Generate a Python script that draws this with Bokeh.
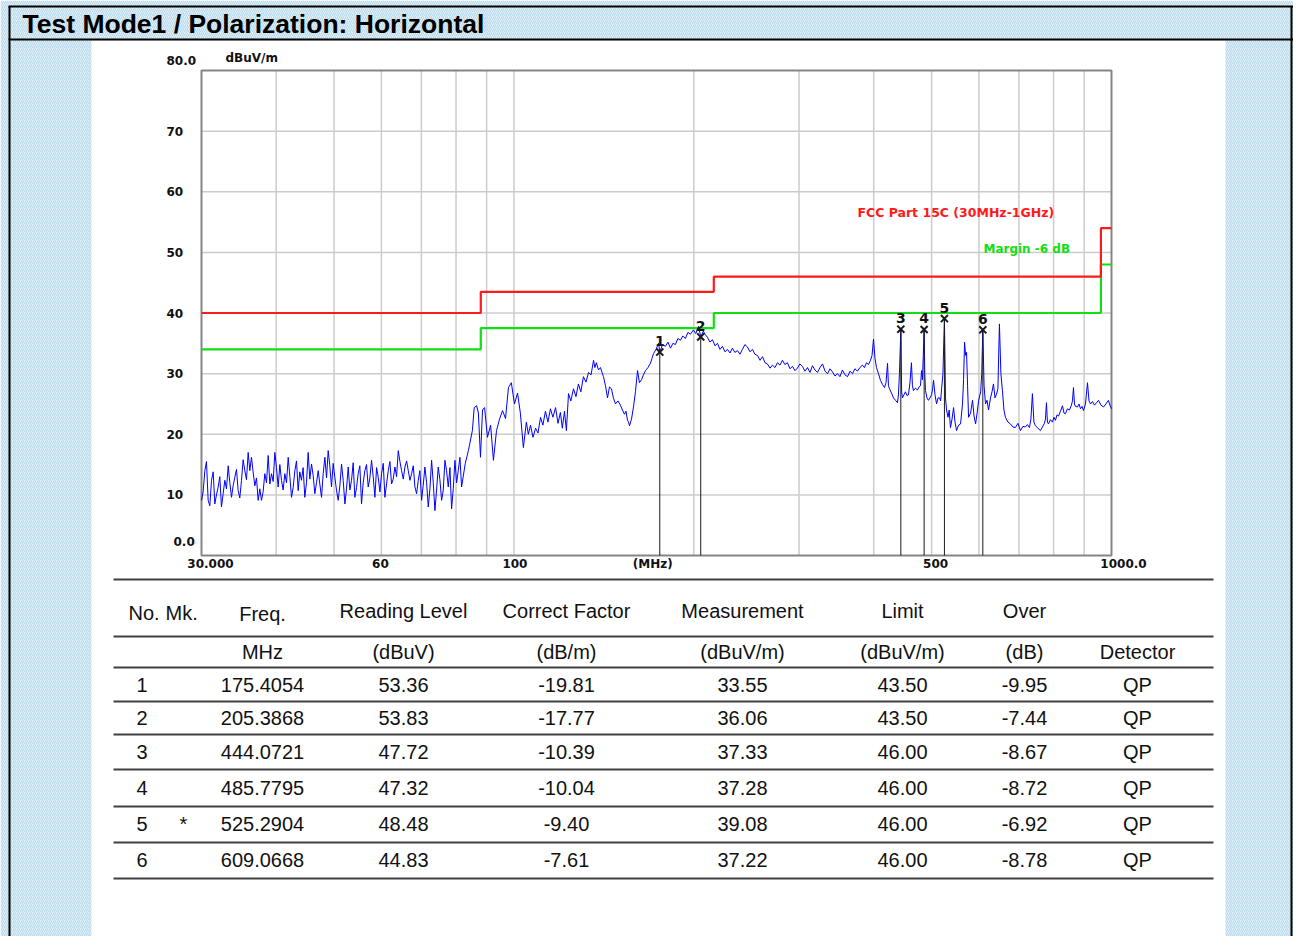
import math
from bokeh.plotting import figure
from bokeh.models import Range1d, ColumnDataSource, LogScale, LinearScale
from bokeh.core.properties import value
from bokeh.embed import file_html
from bokeh.resources import INLINE

# ---------------- data ----------------
page_title = "Test Mode1 / Polarization: Horizontal"
y_unit = "dBuV/m"
limit_name = "FCC Part 15C (30MHz-1GHz)"
margin_name = "Margin -6 dB"

limit_edges = [30, 88, 216, 960, 1000]
limit_levels = [40.0, 43.5, 46.0, 54.0, 54.0]
margin_levels = [34.0, 37.5, 40.0, 48.0, 48.0]

x_tick_values = [30, 60, 100, 170.7, 500, 1000]
x_tick_labels = ["30.000", "60", "100", "(MHz)", "500", "1000.0"]
x_grid_values = [40, 50, 60, 70, 80, 90, 100, 200, 300, 400, 500, 600, 700, 800, 900]
y_tick_values = [0, 10, 20, 30, 40, 50, 60, 70, 80]
y_tick_labels = ["0.0", "10", "20", "30", "40", "50", "60", "70", "80.0"]
y_grid_values = [10, 20, 30, 40, 50, 60, 70]

# low-band noise floor (30 - 82 MHz)
noise_freq = [30.0, 30.39, 30.78, 31.18, 31.58, 31.99, 32.40, 32.82, 33.25, 33.68,
              34.11, 34.55, 35.00, 35.45, 35.91, 36.37, 36.84, 37.32, 37.80, 38.29,
              38.79, 39.29, 39.80, 40.31, 40.83, 41.36, 41.90, 42.44, 42.99, 43.54,
              44.10, 44.67, 45.25, 45.84, 46.43, 47.03, 47.64, 48.26, 48.88, 49.51,
              50.15, 50.80, 51.46, 52.13, 52.80, 53.48, 54.17, 54.87, 55.58, 56.30,
              57.03, 57.77, 58.52, 59.28, 60.04, 60.82, 61.61, 62.40, 63.21, 64.03,
              64.86, 65.70, 66.55, 67.41, 68.28, 69.16, 70.05, 70.96, 71.88, 72.81,
              73.75, 74.70, 75.67, 76.65, 77.64, 78.64, 79.66, 80.69, 81.73]
noise_level = [9.1, 14.0, 9.1, 12.4, 8.5, 11.3, 8.0, 12.4, 14.8, 9.6,
               12.9, 10.7, 12.4, 14.0, 17.0, 16.2, 11.5, 9.1, 9.1, 13.5,
               16.5, 13.5, 17.0, 11.3, 12.4, 13.5, 16.2, 9.6, 14.0, 10.7,
               12.4, 9.6, 17.0, 15.1, 10.2, 14.0, 9.6, 16.2, 17.3, 11.3,
               12.9, 9.1, 15.1, 8.5, 14.6, 12.4, 9.6, 13.5, 8.5, 14.0,
               11.3, 15.7, 9.6, 12.9, 13.5, 9.6, 14.0, 11.8, 14.6, 17.3,
               14.0, 14.6, 14.0, 13.5, 11.3, 12.4, 9.1, 14.6, 8.0, 15.7,
               7.4, 14.6, 9.1, 15.7, 11.3, 7.7, 15.7, 14.0, 11.3]
noise_mid_freq = [30.19, 30.58, 30.98, 31.38, 31.78, 32.19, 32.61, 33.03, 33.46, 33.89,
                  34.33, 34.77, 35.22, 35.68, 36.14, 36.60, 37.08, 37.56, 38.04, 38.54,
                  39.04, 39.54, 40.05, 40.57, 41.09, 41.63, 42.17, 42.71, 43.26, 43.82,
                  44.38, 44.96, 45.54, 46.13, 46.73, 47.33, 47.95, 48.57, 49.19, 49.83,
                  50.47, 51.13, 51.79, 52.46, 53.14, 53.82, 54.52, 55.22, 55.94, 56.66,
                  57.40, 58.14, 58.90, 59.66, 60.43, 61.21, 62.00, 62.80, 63.62, 64.44,
                  65.28, 66.12, 66.98, 67.84, 68.72, 69.60, 70.50, 71.42, 72.34, 73.28,
                  74.22, 75.18, 76.16, 77.14, 78.14, 79.15, 80.17, 81.21]
noise_mid_level = [10.5, 15.5, 8.2, 13.8, 10.0, 13.0, 10.2, 11.0, 12.0, 11.5,
                   14.2, 9.5, 15.8, 12.5, 14.0, 13.8, 12.8, 11.0, 10.5, 12.0,
                   11.8, 12.2, 14.5, 15.0, 10.8, 12.0, 13.0, 11.2, 15.6, 13.8,
                   14.5, 12.0, 12.6, 13.2, 12.0, 11.8, 13.5, 12.8, 14.8, 15.2,
                   10.8, 11.5, 12.4, 11.0, 10.8, 15.3, 11.2, 14.8, 12.0, 15.0,
                   12.8, 13.0, 14.5, 10.5, 15.2, 11.8, 15.5, 12.6, 13.0, 15.5,
                   12.6, 15.6, 12.4, 14.8, 10.2, 14.0, 11.6, 12.0, 11.0, 12.0,
                   10.8, 12.5, 10.8, 14.0, 14.5, 11.0, 12.0, 16.2]

upper_points = [
    (82.9, 15.2), (83.9, 17.3), (85.2, 20.6), (85.8, 24.4), (86.6, 24.7), (87.2, 23.5),
    (87.9, 16.2), (88.6, 24.0), (89.3, 24.4), (90.3, 19.5), (91.4, 21.5), (92.4, 15.7),
    (93.5, 20.6), (94.6, 22.5), (95.7, 23.9), (96.8, 22.6), (97.9, 27.7), (99.0, 28.5),
    (100.2, 25.0), (101.4, 26.8), (102.5, 23.5), (103.7, 17.8), (104.9, 22.0), (105.7, 20.0),
    (106.6, 21.5), (107.6, 19.5), (108.7, 21.0), (109.7, 20.2), (110.8, 22.8), (111.8, 21.5),
    (112.9, 23.8), (114.0, 22.0), (115.1, 24.2), (116.2, 22.8), (117.4, 24.4), (118.5, 21.8),
    (119.6, 23.6), (120.5, 21.0), (121.5, 23.8), (122.4, 20.6), (123.4, 26.7), (124.5, 25.5),
    (125.8, 27.5), (127.0, 26.2), (128.2, 28.3), (129.4, 27.0), (130.7, 29.5), (132.0, 28.6),
    (133.3, 30.2), (134.6, 29.8), (135.9, 32.2), (136.6, 31.0), (137.4, 31.8), (138.5, 30.6),
    (139.6, 31.0), (140.4, 30.2), (141.2, 29.5), (142.3, 28.0), (143.4, 26.0), (144.5, 27.8),
    (145.6, 27.5), (146.7, 26.0), (147.9, 25.0), (149.3, 25.5), (150.7, 24.8), (151.9, 24.0),
    (153.1, 23.3), (154.0, 23.8), (154.9, 22.3), (155.5, 22.0), (156.1, 21.4), (157.3, 22.5),
    (158.5, 24.5), (159.7, 27.0), (161.0, 30.5), (162.2, 28.5), (163.5, 29.0), (164.7, 29.8),
    (166.0, 30.5), (167.6, 31.0), (169.2, 31.7), (170.2, 32.5), (171.2, 33.3), (172.9, 34.0),
    (174.6, 35.0), (175.4, 33.6), (177.3, 34.8), (179.3, 34.5), (181.0, 35.2), (182.8, 34.2),
    (184.5, 35.0), (186.3, 34.8), (188.1, 35.8), (189.9, 35.5), (191.7, 36.2), (193.6, 35.8),
    (195.5, 36.8), (197.4, 36.5), (199.7, 37.2), (201.5, 36.6), (203.6, 37.8), (205.4, 36.1),
    (207.5, 37.0), (209.1, 36.4), (210.8, 36.0), (212.8, 35.2), (214.9, 35.6), (217.0, 34.6),
    (219.1, 35.0), (221.2, 34.0), (223.3, 34.5), (225.5, 33.6), (227.7, 34.0), (229.9, 33.4),
    (232.1, 34.2), (234.3, 33.5), (236.6, 33.8), (238.9, 33.2), (241.2, 34.0), (243.5, 34.8),
    (245.9, 34.4), (248.3, 33.6), (250.7, 34.0), (253.1, 33.2), (255.6, 33.0), (258.1, 32.2),
    (260.6, 32.8), (263.1, 31.8), (265.6, 31.6), (268.2, 30.9), (270.8, 31.4), (273.4, 31.0),
    (276.1, 31.8), (278.7, 31.4), (281.4, 32.2), (284.1, 31.5), (286.9, 31.8), (289.7, 30.8),
    (292.5, 31.2), (295.3, 30.5), (298.1, 30.9), (301.0, 31.6), (303.9, 31.2), (306.9, 30.4),
    (309.9, 31.0), (312.9, 30.2), (315.9, 31.3), (319.0, 30.6), (322.1, 30.2), (325.2, 31.0),
    (328.4, 31.6), (331.6, 30.4), (334.8, 30.0), (338.0, 30.8), (341.2, 30.3), (344.6, 29.6),
    (347.9, 30.0), (351.2, 29.5), (354.6, 30.6), (358.1, 29.8), (361.6, 29.5), (365.1, 30.4),
    (368.6, 30.0), (372.1, 30.8), (375.7, 30.4), (379.3, 31.0), (383.0, 31.4), (386.0, 31.0),
    (389.0, 31.8), (392.0, 31.5), (395.1, 32.2), (397.4, 33.0), (399.7, 35.7), (402.0, 32.5),
    (404.3, 31.0), (407.4, 30.0), (410.6, 28.9), (413.8, 28.2), (417.0, 27.7), (419.4, 28.5),
    (421.9, 31.7), (423.4, 28.0), (425.1, 27.5), (428.4, 26.8), (431.7, 26.0), (435.0, 25.6),
    (438.3, 25.2), (440.0, 26.5), (441.7, 30.0), (444.07, 37.3), (445.5, 27.0), (446.8, 26.0),
    (449.4, 26.5), (452.0, 27.0), (454.6, 26.4), (457.3, 26.5), (460.0, 28.5), (462.6, 31.8),
    (464.4, 28.0), (466.2, 27.2), (469.8, 27.6), (473.5, 27.3), (476.3, 27.8), (479.0, 28.0),
    (481.0, 30.5), (482.7, 29.0), (484.2, 33.0), (485.78, 37.3), (487.0, 30.0), (488.3, 27.2),
    (491.1, 26.0), (494.0, 25.6), (496.9, 26.0), (499.8, 26.5), (501.9, 27.5), (503.7, 28.9),
    (506.6, 26.5), (509.6, 25.0), (512.5, 26.0), (515.6, 26.0), (517.6, 25.5), (519.6, 27.5),
    (522.3, 30.0), (525.29, 39.1), (527.5, 26.0), (529.6, 24.0), (532.7, 22.8), (535.0, 24.0),
    (537.7, 21.1), (540.9, 22.5), (544.1, 24.4), (547.2, 22.0), (550.4, 20.6), (554.6, 21.5),
    (559.0, 21.7), (563.2, 25.0), (565.5, 29.0), (567.7, 35.2), (570.0, 33.0), (572.1, 33.5),
    (574.3, 28.0), (576.5, 22.8), (581.0, 23.5), (585.4, 25.6), (588.8, 23.0), (592.3, 21.7),
    (595.8, 23.5), (599.3, 25.6), (604.0, 27.0), (606.5, 30.0), (609.07, 37.2), (612.0, 28.0),
    (615.4, 25.0), (619.0, 25.6), (622.6, 24.0), (627.4, 26.0), (631.0, 27.0), (634.6, 28.3),
    (638.3, 26.0), (642.0, 26.6), (645.5, 27.5), (649.3, 38.2), (653.0, 30.0), (656.9, 27.2),
    (660.7, 24.0), (664.5, 22.8), (670.9, 22.0), (677.4, 21.7), (684.0, 21.2), (690.6, 21.1),
    (697.3, 21.8), (704.1, 20.6), (710.9, 21.3), (717.7, 21.2), (723.3, 21.6), (728.9, 21.1),
    (733.0, 22.5), (737.3, 26.7), (741.6, 22.0), (745.9, 21.4), (753.1, 21.0), (760.4, 20.6),
    (766.3, 21.2), (772.3, 21.8), (775.3, 22.5), (778.3, 25.2), (781.3, 22.0), (784.3, 21.7),
    (790.4, 22.4), (796.5, 22.0), (801.1, 22.8), (805.8, 22.3), (810.6, 23.2), (815.4, 23.0),
    (821.5, 23.8), (827.8, 24.7), (832.6, 23.5), (837.4, 23.4), (843.9, 24.2), (850.4, 24.0),
    (857.0, 24.8), (860.3, 25.5), (863.7, 27.7), (867.0, 25.0), (870.3, 24.6), (877.1, 24.5),
    (882.2, 25.0), (887.4, 24.2), (892.5, 24.6), (897.7, 23.9), (904.6, 25.0), (911.6, 28.5),
    (917.0, 25.5), (922.3, 25.0), (929.4, 25.4), (936.6, 24.8), (943.8, 25.2), (951.1, 25.6),
    (960.3, 24.8), (969.6, 24.5), (978.9, 25.0), (988.3, 25.6), (994.0, 24.8), (1000.0, 24.2),
]

mk_no = [1, 2, 3, 4, 5, 6]
mk_flag = ["", "", "", "", "*", ""]
mk_freq = [175.4054, 205.3868, 444.0721, 485.7795, 525.2904, 609.0668]
mk_reading = [53.36, 53.83, 47.72, 47.32, 48.48, 44.83]
mk_factor = [-19.81, -17.77, -10.39, -10.04, -9.40, -7.61]
mk_meas = [33.55, 36.06, 37.33, 37.28, 39.08, 37.22]
mk_limit = [43.50, 43.50, 46.00, 46.00, 46.00, 46.00]
mk_over = [-9.95, -7.44, -8.67, -8.72, -6.92, -8.78]
mk_detector = ["QP", "QP", "QP", "QP", "QP", "QP"]

header1 = ["Freq.", "Reading Level", "Correct Factor", "Measurement", "Limit", "Over"]
header2 = ["MHz", "(dBuV)", "(dB/m)", "(dBuV/m)", "(dBuV/m)", "(dB)", "Detector"]

low_band = sorted(zip(noise_freq + noise_mid_freq, noise_level + noise_mid_level))
trace_freq = [p[0] for p in low_band] + [p[0] for p in upper_points]
trace_level = [p[1] for p in low_band] + [p[1] for p in upper_points]

# ---------------- layout / styles ----------------
W, H = 1293, 936
PX_L, PX_R, PY_T, PY_B = 201, 1111, 70, 555          # plot area on the page, pixels
F_L, F_R, DB_B, DB_T = 30.0, 1000.0, 0.0, 80.0        # axis extents
dec_per_px = (math.log10(F_R) - math.log10(F_L)) / (PX_R - PX_L)
f_lo = 10 ** (math.log10(F_L) - PX_L * dec_per_px)
f_hi = 10 ** (math.log10(F_R) + (W - PX_R) * dec_per_px)
db_per_px = (DB_T - DB_B) / (PY_B - PY_T)
db_lo = DB_B - (H - PY_B) * db_per_px
db_hi = DB_T + PY_T * db_per_px

BG = "#dfeff7"
HATCH = "#b3d6e9"
RED = "#ff1a1a"
GREEN = "#10e010"
TICK_FONT = value("DejaVu Sans")
TABLE_FONT = value("Liberation Sans")

page = figure(width=W, height=H, x_range=Range1d(0, W), y_range=Range1d(H, 0),
              x_axis_type=None, y_axis_type=None, toolbar_location=None, output_backend="svg",
              min_border=0, outline_line_color=None, title=None,
              background_fill_color="white", border_fill_color="white")
page.grid.visible = False
page.extra_x_ranges = {"f": Range1d(f_lo, f_hi)}
page.extra_x_scales = {"f": LogScale()}
page.extra_y_ranges = {"db": Range1d(db_lo, db_hi)}
page.extra_y_scales = {"db": LinearScale()}
C = dict(x_range_name="f", y_range_name="db")

# page background, white panel, frame lines, title
page.quad(left=0, right=W, top=0, bottom=H, fill_color=BG, line_color=None,
          hatch_pattern="/", hatch_color=HATCH, hatch_scale=4, hatch_weight=1, hatch_alpha=0.9)
page.quad(left=91, right=1225, top=40, bottom=H, fill_color="white", line_color=None)
page.segment(x0=[8, 8, 9, 1291], x1=[W, W, 9, 1291], y0=[6, 39, 6, 6], y1=[6, 39, H, H],
             line_color="black", line_width=2)
page.text(x=[22], y=[23], text=[page_title], text_font=value("Liberation Sans"),
          text_font_style="bold", text_font_size="26.5px", text_baseline="middle",
          text_color="black")

# chart grid and frame
page.segment(x0=x_grid_values, x1=x_grid_values, y0=DB_B, y1=DB_T,
             line_color="#cccccc", line_width=1.5, **C)
page.segment(x0=F_L, x1=F_R, y0=y_grid_values, y1=y_grid_values,
             line_color="#cccccc", line_width=1.5, **C)
page.quad(left=F_L, right=F_R, bottom=DB_B, top=DB_T, fill_color=None,
          line_color="#858585", line_width=2, **C)

# limit lines and trace
page.step(limit_edges, margin_levels, mode="after", line_color=GREEN, line_width=2.2, **C)
page.step(limit_edges, limit_levels, mode="after", line_color=RED, line_width=2.2, **C)
page.line(trace_freq, trace_level, line_color="#0000ff", line_width=1, **C)

# markers
mk_src = ColumnDataSource(dict(f=mk_freq, m=mk_meas, z=[DB_B] * len(mk_freq),
                               n=[str(n) for n in mk_no]))
page.segment(x0="f", y0="m", x1="f", y1="z", source=mk_src, line_color="#1a1a1a",
             line_width=1, **C)
page.scatter("f", "m", source=mk_src, marker="x", size=10, line_color="#1a1a1a",
             line_width=2, **C)
page.text("f", "m", text="n", source=mk_src, text_font=TICK_FONT, text_font_size="14px",
          text_font_style="bold", text_align="center", text_baseline="bottom", y_offset=-6,
          text_color="#111111", **C)

# legend texts
page.text(x=[375.7], y=[56.6], text=[limit_name], text_color=RED, text_font=TICK_FONT,
          text_font_style="bold", text_font_size="12.5px", text_baseline="middle", **C)
page.text(x=[610.5], y=[50.5], text=[margin_name], text_color=GREEN, text_font=TICK_FONT,
          text_font_style="bold", text_font_size="12px", text_baseline="middle", **C)

# axis labels
x_label_nudge = [9, -1, 1, 0, 4, 12]
page.text(x=x_tick_values, y=[DB_B] * len(x_tick_values), text=x_tick_labels,
          x_offset=x_label_nudge, y_offset=8, text_align="center", text_baseline="middle",
          text_font=TICK_FONT, text_font_style="bold", text_font_size="12px",
          text_color="#111111", **C)
y_label_dx = [-28, -35, -35, -35, -35, -35, -35, -35, -35]
y_label_dy = [-14, 0, 0, 0, 0, 0, 0, 0, -10]
page.text(x=[F_L] * len(y_tick_values), y=y_tick_values, text=y_tick_labels,
          x_offset=y_label_dx, y_offset=y_label_dy, text_align="left", text_baseline="middle",
          text_font=TICK_FONT, text_font_style="bold", text_font_size="12px",
          text_color="#111111", **C)
page.text(x=[F_L], y=[DB_T], text=[y_unit], x_offset=24, y_offset=-13, text_align="left",
          text_baseline="middle", text_font=TICK_FONT, text_font_style="bold",
          text_font_size="12px", text_color="#111111", **C)

# table (page pixel coordinates)
line_y = [579, 636, 667, 701, 734, 769, 806, 842, 878]
page.segment(x0=113, x1=1213, y0=line_y, y1=line_y, line_color="#404040", line_width=2)

col_x = [262, 403, 566, 742, 902, 1024, 1137]
TXT = dict(text_font=TABLE_FONT, text_font_size="20px", text_color="#111111",
           text_baseline="middle")
page.text(x=[128, 165], y=[612, 612], text=["No.", "Mk."], text_align="left", **TXT)
page.text(x=col_x[:6], y=[613, 610, 610, 610, 610, 610], text=header1, text_align="center", **TXT)
page.text(x=col_x, y=[651] * 7, text=header2, text_align="center", **TXT)

row_y = [684, 717, 751, 787, 823, 859]
page.text(x=[136] * 6, y=row_y, text=[str(n) for n in mk_no], text_align="left", **TXT)
page.text(x=[183] * 6, y=row_y, text=mk_flag, text_align="center", **TXT)
columns = [["%.4f" % v for v in mk_freq], ["%.2f" % v for v in mk_reading],
           ["%.2f" % v for v in mk_factor], ["%.2f" % v for v in mk_meas],
           ["%.2f" % v for v in mk_limit], ["%.2f" % v for v in mk_over], mk_detector]
for cx, vals in zip(col_x, columns):
    page.text(x=[cx] * 6, y=row_y, text=vals, text_align="center", **TXT)

open("out.html", "w").write(file_html(page, INLINE))
